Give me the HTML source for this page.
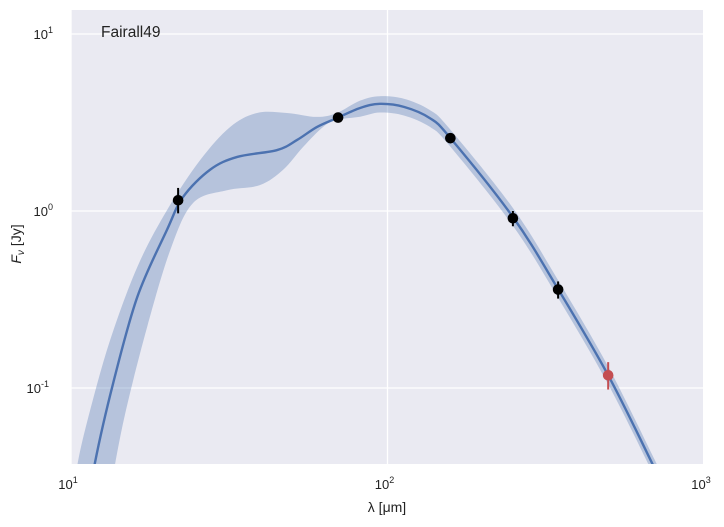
<!DOCTYPE html>
<html><head><meta charset="utf-8"><style>
html,body{margin:0;background:#fff;overflow:hidden;width:724px;height:527px}
svg{display:block;font-family:"Liberation Sans",sans-serif}
</style></head><body>
<svg id="c" width="724" height="527"></svg>
<script>
const lineLam=[11.3,11.9,13.6,16.2,20.1,22.6,27.5,33.5,44.8,51.8,59.8,69.2,81.9,94.6,113,136,157,249,346,498,685,730];
const lineF=[0.02,0.0377,0.107,0.327,0.782,1.2,1.71,2.02,2.21,2.52,2.98,3.35,3.82,4.03,3.87,3.35,2.62,0.925,0.362,0.118,0.0377,0.0294];
const upLam=[10.0,10.5,11.5,13.3,16.2,20.1,25.6,31.8,38.7,48.1,59.8,69.2,81.9,94.6,113,136,157,249,346,498,685,730];
const upF=[0.02,0.0377,0.0752,0.187,0.483,1.01,1.94,2.98,3.58,3.58,3.4,3.58,4.2,4.45,4.3,3.72,2.92,1.04,0.406,0.132,0.0422,0.033];
const loLam=[13.0,13.8,15.0,17.4,20.6,24.3,31.1,39.5,46.8,54.1,62.5,69.2,81.9,94.6,113,136,157,249,346,498,685,730];
const loF=[0.02,0.0377,0.0782,0.221,0.603,1.11,1.31,1.4,1.71,2.3,2.98,3.27,3.41,3.6,3.46,2.99,2.34,0.826,0.323,0.105,0.0337,0.0263];
const ptLam=[21.8,69.8,158,249,346];
const ptF=[1.15,3.37,2.58,0.91,0.36];
const ptHi=[1.35,3.5,2.68,1.0,0.4];
const ptLo=[0.97,3.24,2.48,0.82,0.32];
const redLam=[498],redF=[0.118],redHi=[0.14],redLo=[0.098];
const xTicks=[10,100,1000],xTickExp=["1","2","3"];
const yTicks=[0.1,1,10],yTickExp=["-1","0","1"];
const L=71,R=703,T=10,B=464;
const X=v=>387.5+(Math.log10(v)-2)*316.5;
const Y=v=>211-Math.log10(v)*177;
const NS="http://www.w3.org/2000/svg",svg=document.getElementById('c');
function mk(t,a,p){const e=document.createElementNS(NS,t);for(const k in a)e.setAttribute(k,a[k]);(p||svg).appendChild(e);return e;}
function spline(P){let d='M'+P[0][0]+','+P[0][1];
for(let i=0;i<P.length-1;i++){const p0=P[i-1]||P[i],p1=P[i],p2=P[i+1],p3=P[i+2]||P[i+1];
d+='C'+(p1[0]+(p2[0]-p0[0])/6)+','+(p1[1]+(p2[1]-p0[1])/6)+' '+(p2[0]-(p3[0]-p1[0])/6)+','+(p2[1]-(p3[1]-p1[1])/6)+' '+p2[0]+','+p2[1];}
return d;}
const bg=mk('rect',{x:L,y:T,width:R-L,height:B-T,fill:'#EAEAF2'});

const cp=mk('clipPath',{id:'cp'});mk('rect',{x:L,y:T,width:R-L,height:B-T},cp);
xTicks.forEach((v,i)=>{const g=mk('line',{x1:X(v),x2:X(v),y1:T,y2:B,stroke:'#fff','stroke-width':1.3});

const t=mk('text',{x:X(v)-3,y:489,'font-size':13,'text-anchor':'middle',fill:'#222'});t.textContent='10';

const s=mk('tspan',{dy:-6,'font-size':9},t);s.textContent=xTickExp[i];});
yTicks.forEach((v,i)=>{const g=mk('line',{x1:L,x2:R,y1:Y(v),y2:Y(v),stroke:'#fff','stroke-width':1.3});

const t=mk('text',{x:v<1?49:53,y:Y(v)+5,'font-size':13,'text-anchor':'end',fill:'#222'});t.textContent='10';

const s=mk('tspan',{dy:-6,'font-size':9},t);s.textContent=yTickExp[i];});
const g=mk('g',{'clip-path':'url(#cp)'});
const upP=upLam.map((v,i)=>[X(v),Y(upF[i])]);
const loP=loLam.map((v,i)=>[X(v),Y(loF[i])]).reverse();
const d=spline(upP)+'L'+spline(loP).slice(1)+'Z';
const band=mk('path',{d:d,fill:'#4C72B0','fill-opacity':0.33},g);

const ln=mk('path',{d:spline(lineLam.map((v,i)=>[X(v),Y(lineF[i])])),fill:'none',stroke:'#4C72B0','stroke-width':2.4},g);

function pts(a,f,h,l,col,nm){a.forEach((v,i)=>{const e=mk('line',{x1:X(v),x2:X(v),y1:Y(h[i]),y2:Y(l[i]),stroke:col,'stroke-width':2});

const c=mk('circle',{cx:X(v),cy:Y(f[i]),r:5.3,fill:col});
});}
pts(ptLam,ptF,ptHi,ptLo,'#000','data-point');
pts(redLam,redF,redHi,redLo,'#C44E52','excluded-point');
const ti=mk('text',{x:101,y:37,'font-size':15.5,fill:'#222'});ti.textContent='Fairall49';

const xl=mk('text',{x:387,y:512,'font-size':14,'text-anchor':'middle',fill:'#222'});xl.textContent='λ [μm]';

const yl=mk('text',{x:21,y:244,'font-size':14,'text-anchor':'middle',fill:'#222',transform:'rotate(-90 21 244)'});
const a=mk('tspan',{'font-style':'italic'},yl);a.textContent='F';
const b=mk('tspan',{'font-size':10,'font-style':'italic',dy:3},yl);b.textContent='ν';
const c2=mk('tspan',{dy:-3},yl);c2.textContent=' [Jy]';

</script>
</body></html>
